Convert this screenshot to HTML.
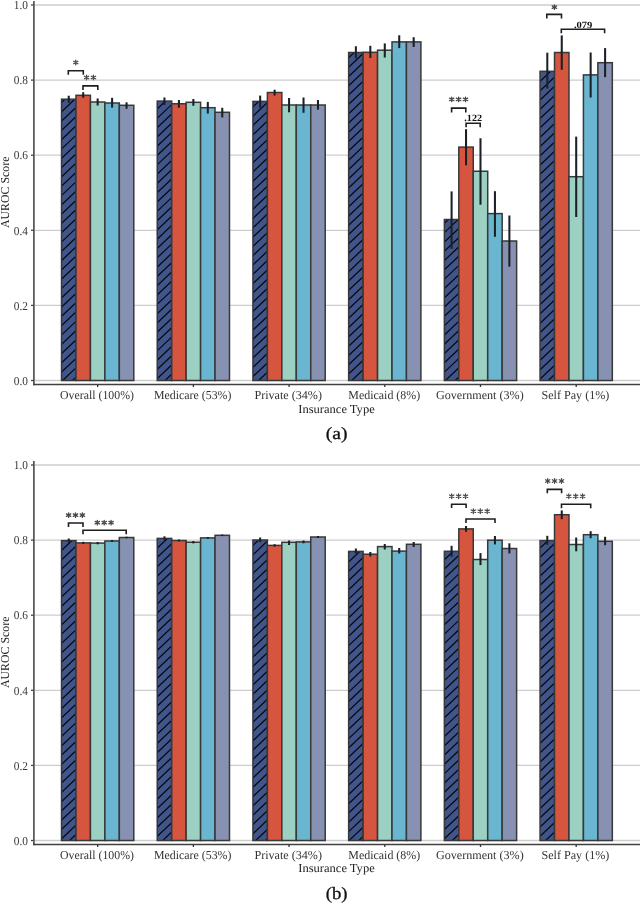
<!DOCTYPE html>
<html><head><meta charset="utf-8"><style>
html,body{margin:0;padding:0;background:#fff;}
svg{display:block;will-change:transform;}
text{font-family:"Liberation Serif",serif;text-rendering:geometricPrecision;}
.yt{font-size:12.2px;fill:#383838;}
.xt{font-size:12.2px;fill:#333;}
.ttl{font-size:12.2px;fill:#222;}
.cap{font-size:17.3px;fill:#111;stroke:#111;stroke-width:0.3px;}
.pv{font-size:9.6px;fill:#111;font-weight:bold;}
</style></head><body>
<svg width="640" height="903" viewBox="0 0 640 903">
<rect width="640" height="903" fill="#fff"/>
<line x1="34.5" y1="380.5" x2="640" y2="380.5" stroke="#cdcdcd" stroke-width="1.3"/>
<line x1="34.5" y1="305.4" x2="640" y2="305.4" stroke="#cdcdcd" stroke-width="1.3"/>
<line x1="34.5" y1="230.3" x2="640" y2="230.3" stroke="#cdcdcd" stroke-width="1.3"/>
<line x1="34.5" y1="155.2" x2="640" y2="155.2" stroke="#cdcdcd" stroke-width="1.3"/>
<line x1="34.5" y1="80.1" x2="640" y2="80.1" stroke="#cdcdcd" stroke-width="1.3"/>
<line x1="34.5" y1="5" x2="640" y2="5" stroke="#cdcdcd" stroke-width="1.3"/>
<rect x="61.53" y="99.2" width="14.45" height="281.3" fill="#40558C"/>
<clipPath id="ca0"><rect x="61.53" y="99.2" width="14.45" height="281.3"/></clipPath>
<path clip-path="url(#ca0)" d="M59.53 67.19L77.98 49.67M59.53 76.49L77.98 58.97M59.53 85.79L77.98 68.27M59.53 95.09L77.98 77.57M59.53 104.39L77.98 86.87M59.53 113.69L77.98 96.17M59.53 122.99L77.98 105.47M59.53 132.29L77.98 114.77M59.53 141.59L77.98 124.07M59.53 150.89L77.98 133.37M59.53 160.19L77.98 142.67M59.53 169.49L77.98 151.97M59.53 178.79L77.98 161.27M59.53 188.09L77.98 170.57M59.53 197.39L77.98 179.87M59.53 206.69L77.98 189.17M59.53 215.99L77.98 198.47M59.53 225.29L77.98 207.77M59.53 234.59L77.98 217.07M59.53 243.89L77.98 226.37M59.53 253.19L77.98 235.67M59.53 262.49L77.98 244.97M59.53 271.79L77.98 254.27M59.53 281.09L77.98 263.57M59.53 290.39L77.98 272.87M59.53 299.69L77.98 282.17M59.53 308.99L77.98 291.47M59.53 318.29L77.98 300.77M59.53 327.59L77.98 310.07M59.53 336.89L77.98 319.37M59.53 346.19L77.98 328.67M59.53 355.49L77.98 337.97M59.53 364.79L77.98 347.27M59.53 374.09L77.98 356.57M59.53 383.39L77.98 365.87M59.53 392.69L77.98 375.17M59.53 401.99L77.98 384.47M59.53 411.29L77.98 393.77M59.53 420.59L77.98 403.07" stroke="#080808" stroke-width="1.25" fill="none"/>
<rect x="61.53" y="99.2" width="14.45" height="281.3" fill="none" stroke="#383838" stroke-width="1.5"/>
<rect x="75.98" y="95.3" width="14.45" height="285.2" fill="#D6553F"/>
<rect x="75.98" y="95.3" width="14.45" height="285.2" fill="none" stroke="#383838" stroke-width="1.5"/>
<rect x="90.43" y="102" width="14.45" height="278.5" fill="#9CD0C3"/>
<rect x="90.43" y="102" width="14.45" height="278.5" fill="none" stroke="#383838" stroke-width="1.5"/>
<rect x="104.88" y="103" width="14.45" height="277.5" fill="#6AB6D1"/>
<rect x="104.88" y="103" width="14.45" height="277.5" fill="none" stroke="#383838" stroke-width="1.5"/>
<rect x="119.33" y="105.3" width="14.45" height="275.2" fill="#8792B3"/>
<rect x="119.33" y="105.3" width="14.45" height="275.2" fill="none" stroke="#383838" stroke-width="1.5"/>
<rect x="157.24" y="101.1" width="14.45" height="279.4" fill="#40558C"/>
<clipPath id="ca1"><rect x="157.24" y="101.1" width="14.45" height="279.4"/></clipPath>
<path clip-path="url(#ca1)" d="M155.24 73.67L173.69 56.14M155.24 82.97L173.69 65.44M155.24 92.27L173.69 74.74M155.24 101.57L173.69 84.04M155.24 110.87L173.69 93.34M155.24 120.17L173.69 102.64M155.24 129.47L173.69 111.94M155.24 138.77L173.69 121.24M155.24 148.07L173.69 130.54M155.24 157.37L173.69 139.84M155.24 166.67L173.69 149.14M155.24 175.97L173.69 158.44M155.24 185.27L173.69 167.74M155.24 194.57L173.69 177.04M155.24 203.87L173.69 186.34M155.24 213.17L173.69 195.64M155.24 222.47L173.69 204.94M155.24 231.77L173.69 214.24M155.24 241.07L173.69 223.54M155.24 250.37L173.69 232.84M155.24 259.67L173.69 242.14M155.24 268.97L173.69 251.44M155.24 278.27L173.69 260.74M155.24 287.57L173.69 270.04M155.24 296.87L173.69 279.34M155.24 306.17L173.69 288.64M155.24 315.47L173.69 297.94M155.24 324.77L173.69 307.24M155.24 334.07L173.69 316.54M155.24 343.37L173.69 325.84M155.24 352.67L173.69 335.14M155.24 361.97L173.69 344.44M155.24 371.27L173.69 353.74M155.24 380.57L173.69 363.04M155.24 389.87L173.69 372.34M155.24 399.17L173.69 381.64M155.24 408.47L173.69 390.94M155.24 417.77L173.69 400.24" stroke="#080808" stroke-width="1.25" fill="none"/>
<rect x="157.24" y="101.1" width="14.45" height="279.4" fill="none" stroke="#383838" stroke-width="1.5"/>
<rect x="171.69" y="103.75" width="14.45" height="276.75" fill="#D6553F"/>
<rect x="171.69" y="103.75" width="14.45" height="276.75" fill="none" stroke="#383838" stroke-width="1.5"/>
<rect x="186.14" y="102.3" width="14.45" height="278.2" fill="#9CD0C3"/>
<rect x="186.14" y="102.3" width="14.45" height="278.2" fill="none" stroke="#383838" stroke-width="1.5"/>
<rect x="200.59" y="107.7" width="14.45" height="272.8" fill="#6AB6D1"/>
<rect x="200.59" y="107.7" width="14.45" height="272.8" fill="none" stroke="#383838" stroke-width="1.5"/>
<rect x="215.04" y="112.3" width="14.45" height="268.2" fill="#8792B3"/>
<rect x="215.04" y="112.3" width="14.45" height="268.2" fill="none" stroke="#383838" stroke-width="1.5"/>
<rect x="252.94" y="101.4" width="14.45" height="279.1" fill="#40558C"/>
<clipPath id="ca2"><rect x="252.94" y="101.4" width="14.45" height="279.1"/></clipPath>
<path clip-path="url(#ca2)" d="M250.94 71.58L269.39 54.05M250.94 80.88L269.39 63.35M250.94 90.18L269.39 72.65M250.94 99.48L269.39 81.95M250.94 108.78L269.39 91.25M250.94 118.08L269.39 100.55M250.94 127.38L269.39 109.85M250.94 136.68L269.39 119.15M250.94 145.98L269.39 128.45M250.94 155.28L269.39 137.75M250.94 164.58L269.39 147.05M250.94 173.88L269.39 156.35M250.94 183.18L269.39 165.65M250.94 192.48L269.39 174.95M250.94 201.78L269.39 184.25M250.94 211.08L269.39 193.55M250.94 220.38L269.39 202.85M250.94 229.68L269.39 212.15M250.94 238.98L269.39 221.45M250.94 248.28L269.39 230.75M250.94 257.58L269.39 240.05M250.94 266.88L269.39 249.35M250.94 276.18L269.39 258.65M250.94 285.48L269.39 267.95M250.94 294.78L269.39 277.25M250.94 304.08L269.39 286.55M250.94 313.38L269.39 295.85M250.94 322.68L269.39 305.15M250.94 331.98L269.39 314.45M250.94 341.28L269.39 323.75M250.94 350.58L269.39 333.05M250.94 359.88L269.39 342.35M250.94 369.18L269.39 351.65M250.94 378.48L269.39 360.95M250.94 387.78L269.39 370.25M250.94 397.08L269.39 379.55M250.94 406.38L269.39 388.85M250.94 415.68L269.39 398.15" stroke="#080808" stroke-width="1.25" fill="none"/>
<rect x="252.94" y="101.4" width="14.45" height="279.1" fill="none" stroke="#383838" stroke-width="1.5"/>
<rect x="267.39" y="92.5" width="14.45" height="288" fill="#D6553F"/>
<rect x="267.39" y="92.5" width="14.45" height="288" fill="none" stroke="#383838" stroke-width="1.5"/>
<rect x="281.84" y="105" width="14.45" height="275.5" fill="#9CD0C3"/>
<rect x="281.84" y="105" width="14.45" height="275.5" fill="none" stroke="#383838" stroke-width="1.5"/>
<rect x="296.29" y="105" width="14.45" height="275.5" fill="#6AB6D1"/>
<rect x="296.29" y="105" width="14.45" height="275.5" fill="none" stroke="#383838" stroke-width="1.5"/>
<rect x="310.75" y="105" width="14.45" height="275.5" fill="#8792B3"/>
<rect x="310.75" y="105" width="14.45" height="275.5" fill="none" stroke="#383838" stroke-width="1.5"/>
<rect x="348.65" y="52.5" width="14.45" height="328" fill="#40558C"/>
<clipPath id="ca3"><rect x="348.65" y="52.5" width="14.45" height="328"/></clipPath>
<path clip-path="url(#ca3)" d="M346.65 22.56L365.1 5.03M346.65 31.86L365.1 14.33M346.65 41.16L365.1 23.63M346.65 50.46L365.1 32.93M346.65 59.76L365.1 42.23M346.65 69.06L365.1 51.53M346.65 78.36L365.1 60.83M346.65 87.66L365.1 70.13M346.65 96.96L365.1 79.43M346.65 106.26L365.1 88.73M346.65 115.56L365.1 98.03M346.65 124.86L365.1 107.33M346.65 134.16L365.1 116.63M346.65 143.46L365.1 125.93M346.65 152.76L365.1 135.23M346.65 162.06L365.1 144.53M346.65 171.36L365.1 153.83M346.65 180.66L365.1 163.13M346.65 189.96L365.1 172.43M346.65 199.26L365.1 181.73M346.65 208.56L365.1 191.03M346.65 217.86L365.1 200.33M346.65 227.16L365.1 209.63M346.65 236.46L365.1 218.93M346.65 245.76L365.1 228.23M346.65 255.06L365.1 237.53M346.65 264.36L365.1 246.83M346.65 273.66L365.1 256.13M346.65 282.96L365.1 265.43M346.65 292.26L365.1 274.73M346.65 301.56L365.1 284.03M346.65 310.86L365.1 293.33M346.65 320.16L365.1 302.63M346.65 329.46L365.1 311.93M346.65 338.76L365.1 321.23M346.65 348.06L365.1 330.53M346.65 357.36L365.1 339.83M346.65 366.66L365.1 349.13M346.65 375.96L365.1 358.43M346.65 385.26L365.1 367.73M346.65 394.56L365.1 377.03M346.65 403.86L365.1 386.33M346.65 413.16L365.1 395.63" stroke="#080808" stroke-width="1.25" fill="none"/>
<rect x="348.65" y="52.5" width="14.45" height="328" fill="none" stroke="#383838" stroke-width="1.5"/>
<rect x="363.1" y="52.3" width="14.45" height="328.2" fill="#D6553F"/>
<rect x="363.1" y="52.3" width="14.45" height="328.2" fill="none" stroke="#383838" stroke-width="1.5"/>
<rect x="377.55" y="50.2" width="14.45" height="330.3" fill="#9CD0C3"/>
<rect x="377.55" y="50.2" width="14.45" height="330.3" fill="none" stroke="#383838" stroke-width="1.5"/>
<rect x="392" y="41.9" width="14.45" height="338.6" fill="#6AB6D1"/>
<rect x="392" y="41.9" width="14.45" height="338.6" fill="none" stroke="#383838" stroke-width="1.5"/>
<rect x="406.45" y="41.9" width="14.45" height="338.6" fill="#8792B3"/>
<rect x="406.45" y="41.9" width="14.45" height="338.6" fill="none" stroke="#383838" stroke-width="1.5"/>
<rect x="444.37" y="219.5" width="14.45" height="161" fill="#40558C"/>
<clipPath id="ca4"><rect x="444.37" y="219.5" width="14.45" height="161"/></clipPath>
<path clip-path="url(#ca4)" d="M442.37 188.05L460.81 170.52M442.37 197.35L460.81 179.82M442.37 206.65L460.81 189.12M442.37 215.95L460.81 198.42M442.37 225.25L460.81 207.72M442.37 234.55L460.81 217.02M442.37 243.85L460.81 226.32M442.37 253.15L460.81 235.62M442.37 262.45L460.81 244.92M442.37 271.75L460.81 254.22M442.37 281.05L460.81 263.52M442.37 290.35L460.81 272.82M442.37 299.65L460.81 282.12M442.37 308.95L460.81 291.42M442.37 318.25L460.81 300.72M442.37 327.55L460.81 310.02M442.37 336.85L460.81 319.32M442.37 346.15L460.81 328.62M442.37 355.45L460.81 337.92M442.37 364.75L460.81 347.22M442.37 374.05L460.81 356.52M442.37 383.35L460.81 365.82M442.37 392.65L460.81 375.12M442.37 401.95L460.81 384.42M442.37 411.25L460.81 393.72M442.37 420.55L460.81 403.02" stroke="#080808" stroke-width="1.25" fill="none"/>
<rect x="444.37" y="219.5" width="14.45" height="161" fill="none" stroke="#383838" stroke-width="1.5"/>
<rect x="458.81" y="147.1" width="14.45" height="233.4" fill="#D6553F"/>
<rect x="458.81" y="147.1" width="14.45" height="233.4" fill="none" stroke="#383838" stroke-width="1.5"/>
<rect x="473.26" y="171.25" width="14.45" height="209.25" fill="#9CD0C3"/>
<rect x="473.26" y="171.25" width="14.45" height="209.25" fill="none" stroke="#383838" stroke-width="1.5"/>
<rect x="487.72" y="213.6" width="14.45" height="166.9" fill="#6AB6D1"/>
<rect x="487.72" y="213.6" width="14.45" height="166.9" fill="none" stroke="#383838" stroke-width="1.5"/>
<rect x="502.17" y="241" width="14.45" height="139.5" fill="#8792B3"/>
<rect x="502.17" y="241" width="14.45" height="139.5" fill="none" stroke="#383838" stroke-width="1.5"/>
<rect x="540.07" y="71.3" width="14.45" height="309.2" fill="#40558C"/>
<clipPath id="ca5"><rect x="540.07" y="71.3" width="14.45" height="309.2"/></clipPath>
<path clip-path="url(#ca5)" d="M538.07 36.81L556.52 19.28M538.07 46.11L556.52 28.58M538.07 55.41L556.52 37.88M538.07 64.71L556.52 47.18M538.07 74.01L556.52 56.48M538.07 83.31L556.52 65.78M538.07 92.61L556.52 75.08M538.07 101.91L556.52 84.38M538.07 111.21L556.52 93.68M538.07 120.51L556.52 102.98M538.07 129.81L556.52 112.28M538.07 139.11L556.52 121.58M538.07 148.41L556.52 130.88M538.07 157.71L556.52 140.18M538.07 167.01L556.52 149.48M538.07 176.31L556.52 158.78M538.07 185.61L556.52 168.08M538.07 194.91L556.52 177.38M538.07 204.21L556.52 186.68M538.07 213.51L556.52 195.98M538.07 222.81L556.52 205.28M538.07 232.11L556.52 214.58M538.07 241.41L556.52 223.88M538.07 250.71L556.52 233.18M538.07 260.01L556.52 242.48M538.07 269.31L556.52 251.78M538.07 278.61L556.52 261.08M538.07 287.91L556.52 270.38M538.07 297.21L556.52 279.68M538.07 306.51L556.52 288.98M538.07 315.81L556.52 298.28M538.07 325.11L556.52 307.58M538.07 334.41L556.52 316.88M538.07 343.71L556.52 326.18M538.07 353.01L556.52 335.48M538.07 362.31L556.52 344.78M538.07 371.61L556.52 354.08M538.07 380.91L556.52 363.38M538.07 390.21L556.52 372.68M538.07 399.51L556.52 381.98M538.07 408.81L556.52 391.28M538.07 418.11L556.52 400.58" stroke="#080808" stroke-width="1.25" fill="none"/>
<rect x="540.07" y="71.3" width="14.45" height="309.2" fill="none" stroke="#383838" stroke-width="1.5"/>
<rect x="554.52" y="52.5" width="14.45" height="328" fill="#D6553F"/>
<rect x="554.52" y="52.5" width="14.45" height="328" fill="none" stroke="#383838" stroke-width="1.5"/>
<rect x="568.97" y="176.7" width="14.45" height="203.8" fill="#9CD0C3"/>
<rect x="568.97" y="176.7" width="14.45" height="203.8" fill="none" stroke="#383838" stroke-width="1.5"/>
<rect x="583.42" y="74.9" width="14.45" height="305.6" fill="#6AB6D1"/>
<rect x="583.42" y="74.9" width="14.45" height="305.6" fill="none" stroke="#383838" stroke-width="1.5"/>
<rect x="597.87" y="62.7" width="14.45" height="317.8" fill="#8792B3"/>
<rect x="597.87" y="62.7" width="14.45" height="317.8" fill="none" stroke="#383838" stroke-width="1.5"/>
<line x1="68.75" y1="95.7" x2="68.75" y2="102.7" stroke="#1b1f26" stroke-width="2.05"/>
<line x1="83.2" y1="92.2" x2="83.2" y2="97.8" stroke="#1b1f26" stroke-width="2.05"/>
<line x1="97.65" y1="98.5" x2="97.65" y2="105.5" stroke="#1b1f26" stroke-width="2.05"/>
<line x1="112.1" y1="97.8" x2="112.1" y2="107.7" stroke="#1b1f26" stroke-width="2.05"/>
<line x1="126.55" y1="102.3" x2="126.55" y2="108.8" stroke="#1b1f26" stroke-width="2.05"/>
<line x1="164.46" y1="97.5" x2="164.46" y2="105" stroke="#1b1f26" stroke-width="2.05"/>
<line x1="178.91" y1="100" x2="178.91" y2="107.8" stroke="#1b1f26" stroke-width="2.05"/>
<line x1="193.36" y1="99" x2="193.36" y2="105.8" stroke="#1b1f26" stroke-width="2.05"/>
<line x1="207.81" y1="101.9" x2="207.81" y2="113.6" stroke="#1b1f26" stroke-width="2.05"/>
<line x1="222.26" y1="107.8" x2="222.26" y2="117.5" stroke="#1b1f26" stroke-width="2.05"/>
<line x1="260.17" y1="95.6" x2="260.17" y2="107.8" stroke="#1b1f26" stroke-width="2.05"/>
<line x1="274.62" y1="89.7" x2="274.62" y2="95.6" stroke="#1b1f26" stroke-width="2.05"/>
<line x1="289.07" y1="98" x2="289.07" y2="112.3" stroke="#1b1f26" stroke-width="2.05"/>
<line x1="303.52" y1="97.5" x2="303.52" y2="112.8" stroke="#1b1f26" stroke-width="2.05"/>
<line x1="317.97" y1="100" x2="317.97" y2="109.7" stroke="#1b1f26" stroke-width="2.05"/>
<line x1="355.88" y1="46.25" x2="355.88" y2="58.3" stroke="#1b1f26" stroke-width="2.05"/>
<line x1="370.33" y1="45.8" x2="370.33" y2="58" stroke="#1b1f26" stroke-width="2.05"/>
<line x1="384.78" y1="43.4" x2="384.78" y2="57.5" stroke="#1b1f26" stroke-width="2.05"/>
<line x1="399.23" y1="35.3" x2="399.23" y2="48.1" stroke="#1b1f26" stroke-width="2.05"/>
<line x1="413.68" y1="37.2" x2="413.68" y2="46.9" stroke="#1b1f26" stroke-width="2.05"/>
<line x1="451.59" y1="191.4" x2="451.59" y2="248.8" stroke="#1b1f26" stroke-width="2.05"/>
<line x1="466.04" y1="129.2" x2="466.04" y2="165.3" stroke="#1b1f26" stroke-width="2.05"/>
<line x1="480.49" y1="138.25" x2="480.49" y2="204.7" stroke="#1b1f26" stroke-width="2.05"/>
<line x1="494.94" y1="191.2" x2="494.94" y2="236.8" stroke="#1b1f26" stroke-width="2.05"/>
<line x1="509.39" y1="215.5" x2="509.39" y2="266.7" stroke="#1b1f26" stroke-width="2.05"/>
<line x1="547.3" y1="52.7" x2="547.3" y2="88.6" stroke="#1b1f26" stroke-width="2.05"/>
<line x1="561.75" y1="35.4" x2="561.75" y2="69.8" stroke="#1b1f26" stroke-width="2.05"/>
<line x1="576.2" y1="136.6" x2="576.2" y2="217" stroke="#1b1f26" stroke-width="2.05"/>
<line x1="590.65" y1="52.5" x2="590.65" y2="97.5" stroke="#1b1f26" stroke-width="2.05"/>
<line x1="605.1" y1="48.1" x2="605.1" y2="77.1" stroke="#1b1f26" stroke-width="2.05"/>
<path d="M68.3 74.8V70.8H83.3V74.8" fill="none" stroke="#1e1e1e" stroke-width="1.6"/>
<path d="M83 90V85.9H97.8V90" fill="none" stroke="#1e1e1e" stroke-width="1.6"/>
<path d="M451.6 112.5V108.1H465.8V112.5" fill="none" stroke="#1e1e1e" stroke-width="1.6"/>
<path d="M466.1 127.3V123.2H480.2V127.3" fill="none" stroke="#1e1e1e" stroke-width="1.6"/>
<path d="M546.8 18.4V14.4H561.5V18.4" fill="none" stroke="#1e1e1e" stroke-width="1.6"/>
<path d="M561.3 33.3V29.3H604.6V33.3" fill="none" stroke="#1e1e1e" stroke-width="1.6"/>
<path d="M75.75 60.2L75.75 64.8M77.9 61.26L73.6 63.74M77.9 63.74L73.6 61.26M86.55 75.2L86.55 79.8M88.7 76.26L84.4 78.74M88.7 78.74L84.4 76.26M93.45 75.2L93.45 79.8M95.6 76.26L91.3 78.74M95.6 78.74L91.3 76.26M451.7 97.1L451.7 101.7M453.85 98.16L449.55 100.64M453.85 100.64L449.55 98.16M458.6 97.1L458.6 101.7M460.75 98.16L456.45 100.64M460.75 100.64L456.45 98.16M465.5 97.1L465.5 101.7M467.65 98.16L463.35 100.64M467.65 100.64L463.35 98.16M554.4 4.8L554.4 9.4M556.55 5.86L552.25 8.34M556.55 8.34L552.25 5.86" stroke="#4a4a4a" stroke-width="1.3" fill="none" stroke-linecap="round"/>
<text x="464.3" y="120.5" textLength="17.7" lengthAdjust="spacingAndGlyphs" class="pv">.122</text>
<text x="573.9" y="28" textLength="18.5" lengthAdjust="spacingAndGlyphs" class="pv">.079</text>
<line x1="33.9" y1="1" x2="33.9" y2="385.3" stroke="#484848" stroke-width="1.6"/>
<line x1="33.1" y1="384.5" x2="640" y2="384.5" stroke="#404040" stroke-width="1.7"/>
<line x1="31" y1="380.5" x2="33.5" y2="380.5" stroke="#444" stroke-width="1.3"/>
<text x="13.8" y="384.7" textLength="14.2" lengthAdjust="spacingAndGlyphs" class="yt">0.0</text>
<line x1="31" y1="305.4" x2="33.5" y2="305.4" stroke="#444" stroke-width="1.3"/>
<text x="13.8" y="309.6" textLength="14.2" lengthAdjust="spacingAndGlyphs" class="yt">0.2</text>
<line x1="31" y1="230.3" x2="33.5" y2="230.3" stroke="#444" stroke-width="1.3"/>
<text x="13.8" y="234.5" textLength="14.2" lengthAdjust="spacingAndGlyphs" class="yt">0.4</text>
<line x1="31" y1="155.2" x2="33.5" y2="155.2" stroke="#444" stroke-width="1.3"/>
<text x="13.8" y="159.4" textLength="14.2" lengthAdjust="spacingAndGlyphs" class="yt">0.6</text>
<line x1="31" y1="80.1" x2="33.5" y2="80.1" stroke="#444" stroke-width="1.3"/>
<text x="13.8" y="84.3" textLength="14.2" lengthAdjust="spacingAndGlyphs" class="yt">0.8</text>
<line x1="31" y1="5" x2="33.5" y2="5" stroke="#444" stroke-width="1.3"/>
<text x="13.8" y="9.2" textLength="14.2" lengthAdjust="spacingAndGlyphs" class="yt">1.0</text>
<line x1="97.65" y1="384.5" x2="97.65" y2="387" stroke="#333" stroke-width="1.3"/>
<text x="60" y="398.9" textLength="74" lengthAdjust="spacingAndGlyphs" class="xt">Overall (100%)</text>
<line x1="193.36" y1="384.5" x2="193.36" y2="387" stroke="#333" stroke-width="1.3"/>
<text x="154" y="398.9" textLength="77.4" lengthAdjust="spacingAndGlyphs" class="xt">Medicare (53%)</text>
<line x1="289.07" y1="384.5" x2="289.07" y2="387" stroke="#333" stroke-width="1.3"/>
<text x="254.4" y="398.9" textLength="67.6" lengthAdjust="spacingAndGlyphs" class="xt">Private (34%)</text>
<line x1="384.78" y1="384.5" x2="384.78" y2="387" stroke="#333" stroke-width="1.3"/>
<text x="348.3" y="398.9" textLength="71.9" lengthAdjust="spacingAndGlyphs" class="xt">Medicaid (8%)</text>
<line x1="480.49" y1="384.5" x2="480.49" y2="387" stroke="#333" stroke-width="1.3"/>
<text x="435.9" y="398.9" textLength="87.85" lengthAdjust="spacingAndGlyphs" class="xt">Government (3%)</text>
<line x1="576.2" y1="384.5" x2="576.2" y2="387" stroke="#333" stroke-width="1.3"/>
<text x="541.4" y="398.9" textLength="68" lengthAdjust="spacingAndGlyphs" class="xt">Self Pay (1%)</text>
<text x="298.3" y="413.2" textLength="76.4" lengthAdjust="spacingAndGlyphs" class="ttl">Insurance Type</text>
<text transform="translate(8.9 228) rotate(-90)" x="0" y="0" textLength="71.4" lengthAdjust="spacingAndGlyphs" class="ttl">AUROC Score</text>
<text x="325.8" y="438.8" textLength="21.8" lengthAdjust="spacingAndGlyphs" class="cap">(a)</text>
<line x1="34.5" y1="840.5" x2="640" y2="840.5" stroke="#cdcdcd" stroke-width="1.3"/>
<line x1="34.5" y1="765.4" x2="640" y2="765.4" stroke="#cdcdcd" stroke-width="1.3"/>
<line x1="34.5" y1="690.3" x2="640" y2="690.3" stroke="#cdcdcd" stroke-width="1.3"/>
<line x1="34.5" y1="615.2" x2="640" y2="615.2" stroke="#cdcdcd" stroke-width="1.3"/>
<line x1="34.5" y1="540.1" x2="640" y2="540.1" stroke="#cdcdcd" stroke-width="1.3"/>
<line x1="34.5" y1="465" x2="640" y2="465" stroke="#cdcdcd" stroke-width="1.3"/>
<rect x="61.53" y="540.6" width="14.45" height="299.9" fill="#40558C"/>
<clipPath id="cb0"><rect x="61.53" y="540.6" width="14.45" height="299.9"/></clipPath>
<path clip-path="url(#cb0)" d="M59.53 505.88L77.98 488.36M59.53 515.18L77.98 497.66M59.53 524.48L77.98 506.96M59.53 533.78L77.98 516.26M59.53 543.08L77.98 525.56M59.53 552.38L77.98 534.86M59.53 561.68L77.98 544.16M59.53 570.98L77.98 553.46M59.53 580.28L77.98 562.76M59.53 589.58L77.98 572.06M59.53 598.88L77.98 581.36M59.53 608.18L77.98 590.66M59.53 617.48L77.98 599.96M59.53 626.78L77.98 609.26M59.53 636.08L77.98 618.56M59.53 645.38L77.98 627.86M59.53 654.68L77.98 637.16M59.53 663.98L77.98 646.46M59.53 673.28L77.98 655.76M59.53 682.58L77.98 665.06M59.53 691.88L77.98 674.36M59.53 701.18L77.98 683.66M59.53 710.48L77.98 692.96M59.53 719.78L77.98 702.26M59.53 729.08L77.98 711.56M59.53 738.38L77.98 720.86M59.53 747.68L77.98 730.16M59.53 756.98L77.98 739.46M59.53 766.28L77.98 748.76M59.53 775.58L77.98 758.06M59.53 784.88L77.98 767.36M59.53 794.18L77.98 776.66M59.53 803.48L77.98 785.96M59.53 812.78L77.98 795.26M59.53 822.08L77.98 804.56M59.53 831.38L77.98 813.86M59.53 840.68L77.98 823.16M59.53 849.98L77.98 832.46M59.53 859.28L77.98 841.76M59.53 868.58L77.98 851.06M59.53 877.88L77.98 860.36" stroke="#080808" stroke-width="1.25" fill="none"/>
<rect x="61.53" y="540.6" width="14.45" height="299.9" fill="none" stroke="#383838" stroke-width="1.5"/>
<rect x="75.98" y="542.9" width="14.45" height="297.6" fill="#D6553F"/>
<rect x="75.98" y="542.9" width="14.45" height="297.6" fill="none" stroke="#383838" stroke-width="1.5"/>
<rect x="90.43" y="543.1" width="14.45" height="297.4" fill="#9CD0C3"/>
<rect x="90.43" y="543.1" width="14.45" height="297.4" fill="none" stroke="#383838" stroke-width="1.5"/>
<rect x="104.88" y="541" width="14.45" height="299.5" fill="#6AB6D1"/>
<rect x="104.88" y="541" width="14.45" height="299.5" fill="none" stroke="#383838" stroke-width="1.5"/>
<rect x="119.33" y="537.5" width="14.45" height="303" fill="#8792B3"/>
<rect x="119.33" y="537.5" width="14.45" height="303" fill="none" stroke="#383838" stroke-width="1.5"/>
<rect x="157.24" y="538.4" width="14.45" height="302.1" fill="#40558C"/>
<clipPath id="cb1"><rect x="157.24" y="538.4" width="14.45" height="302.1"/></clipPath>
<path clip-path="url(#cb1)" d="M155.24 503.55L173.69 486.02M155.24 512.85L173.69 495.32M155.24 522.15L173.69 504.62M155.24 531.45L173.69 513.92M155.24 540.75L173.69 523.22M155.24 550.05L173.69 532.52M155.24 559.35L173.69 541.82M155.24 568.65L173.69 551.12M155.24 577.95L173.69 560.42M155.24 587.25L173.69 569.72M155.24 596.55L173.69 579.02M155.24 605.85L173.69 588.32M155.24 615.15L173.69 597.62M155.24 624.45L173.69 606.92M155.24 633.75L173.69 616.22M155.24 643.05L173.69 625.52M155.24 652.35L173.69 634.82M155.24 661.65L173.69 644.12M155.24 670.95L173.69 653.42M155.24 680.25L173.69 662.72M155.24 689.55L173.69 672.02M155.24 698.85L173.69 681.32M155.24 708.15L173.69 690.62M155.24 717.45L173.69 699.92M155.24 726.75L173.69 709.22M155.24 736.05L173.69 718.52M155.24 745.35L173.69 727.82M155.24 754.65L173.69 737.12M155.24 763.95L173.69 746.42M155.24 773.25L173.69 755.72M155.24 782.55L173.69 765.02M155.24 791.85L173.69 774.32M155.24 801.15L173.69 783.62M155.24 810.45L173.69 792.92M155.24 819.75L173.69 802.22M155.24 829.05L173.69 811.52M155.24 838.35L173.69 820.82M155.24 847.65L173.69 830.12M155.24 856.95L173.69 839.42M155.24 866.25L173.69 848.72M155.24 875.55L173.69 858.02" stroke="#080808" stroke-width="1.25" fill="none"/>
<rect x="157.24" y="538.4" width="14.45" height="302.1" fill="none" stroke="#383838" stroke-width="1.5"/>
<rect x="171.69" y="540.5" width="14.45" height="300" fill="#D6553F"/>
<rect x="171.69" y="540.5" width="14.45" height="300" fill="none" stroke="#383838" stroke-width="1.5"/>
<rect x="186.14" y="542.2" width="14.45" height="298.3" fill="#9CD0C3"/>
<rect x="186.14" y="542.2" width="14.45" height="298.3" fill="none" stroke="#383838" stroke-width="1.5"/>
<rect x="200.59" y="537.9" width="14.45" height="302.6" fill="#6AB6D1"/>
<rect x="200.59" y="537.9" width="14.45" height="302.6" fill="none" stroke="#383838" stroke-width="1.5"/>
<rect x="215.04" y="535.3" width="14.45" height="305.2" fill="#8792B3"/>
<rect x="215.04" y="535.3" width="14.45" height="305.2" fill="none" stroke="#383838" stroke-width="1.5"/>
<rect x="252.94" y="540" width="14.45" height="300.5" fill="#40558C"/>
<clipPath id="cb2"><rect x="252.94" y="540" width="14.45" height="300.5"/></clipPath>
<path clip-path="url(#cb2)" d="M250.94 510.18L269.39 492.65M250.94 519.48L269.39 501.95M250.94 528.78L269.39 511.25M250.94 538.08L269.39 520.55M250.94 547.38L269.39 529.85M250.94 556.68L269.39 539.15M250.94 565.98L269.39 548.45M250.94 575.28L269.39 557.75M250.94 584.58L269.39 567.05M250.94 593.88L269.39 576.35M250.94 603.18L269.39 585.65M250.94 612.48L269.39 594.95M250.94 621.78L269.39 604.25M250.94 631.08L269.39 613.55M250.94 640.38L269.39 622.85M250.94 649.68L269.39 632.15M250.94 658.98L269.39 641.45M250.94 668.28L269.39 650.75M250.94 677.58L269.39 660.05M250.94 686.88L269.39 669.35M250.94 696.18L269.39 678.65M250.94 705.48L269.39 687.95M250.94 714.78L269.39 697.25M250.94 724.08L269.39 706.55M250.94 733.38L269.39 715.85M250.94 742.68L269.39 725.15M250.94 751.98L269.39 734.45M250.94 761.28L269.39 743.75M250.94 770.58L269.39 753.05M250.94 779.88L269.39 762.35M250.94 789.18L269.39 771.65M250.94 798.48L269.39 780.95M250.94 807.78L269.39 790.25M250.94 817.08L269.39 799.55M250.94 826.38L269.39 808.85M250.94 835.68L269.39 818.15M250.94 844.98L269.39 827.45M250.94 854.28L269.39 836.75M250.94 863.58L269.39 846.05M250.94 872.88L269.39 855.35" stroke="#080808" stroke-width="1.25" fill="none"/>
<rect x="252.94" y="540" width="14.45" height="300.5" fill="none" stroke="#383838" stroke-width="1.5"/>
<rect x="267.39" y="545.4" width="14.45" height="295.1" fill="#D6553F"/>
<rect x="267.39" y="545.4" width="14.45" height="295.1" fill="none" stroke="#383838" stroke-width="1.5"/>
<rect x="281.84" y="542.3" width="14.45" height="298.2" fill="#9CD0C3"/>
<rect x="281.84" y="542.3" width="14.45" height="298.2" fill="none" stroke="#383838" stroke-width="1.5"/>
<rect x="296.29" y="541.9" width="14.45" height="298.6" fill="#6AB6D1"/>
<rect x="296.29" y="541.9" width="14.45" height="298.6" fill="none" stroke="#383838" stroke-width="1.5"/>
<rect x="310.75" y="537" width="14.45" height="303.5" fill="#8792B3"/>
<rect x="310.75" y="537" width="14.45" height="303.5" fill="none" stroke="#383838" stroke-width="1.5"/>
<rect x="348.65" y="551.4" width="14.45" height="289.1" fill="#40558C"/>
<clipPath id="cb3"><rect x="348.65" y="551.4" width="14.45" height="289.1"/></clipPath>
<path clip-path="url(#cb3)" d="M346.65 517.32L365.1 499.79M346.65 526.62L365.1 509.09M346.65 535.92L365.1 518.39M346.65 545.22L365.1 527.69M346.65 554.52L365.1 536.99M346.65 563.82L365.1 546.29M346.65 573.12L365.1 555.59M346.65 582.42L365.1 564.89M346.65 591.72L365.1 574.19M346.65 601.02L365.1 583.49M346.65 610.32L365.1 592.79M346.65 619.62L365.1 602.09M346.65 628.92L365.1 611.39M346.65 638.22L365.1 620.69M346.65 647.52L365.1 629.99M346.65 656.82L365.1 639.29M346.65 666.12L365.1 648.59M346.65 675.42L365.1 657.89M346.65 684.72L365.1 667.19M346.65 694.02L365.1 676.49M346.65 703.32L365.1 685.79M346.65 712.62L365.1 695.09M346.65 721.92L365.1 704.39M346.65 731.22L365.1 713.69M346.65 740.52L365.1 722.99M346.65 749.82L365.1 732.29M346.65 759.12L365.1 741.59M346.65 768.42L365.1 750.89M346.65 777.72L365.1 760.19M346.65 787.02L365.1 769.49M346.65 796.32L365.1 778.79M346.65 805.62L365.1 788.09M346.65 814.92L365.1 797.39M346.65 824.22L365.1 806.69M346.65 833.52L365.1 815.99M346.65 842.82L365.1 825.29M346.65 852.12L365.1 834.59M346.65 861.42L365.1 843.89M346.65 870.72L365.1 853.19M346.65 880.02L365.1 862.49" stroke="#080808" stroke-width="1.25" fill="none"/>
<rect x="348.65" y="551.4" width="14.45" height="289.1" fill="none" stroke="#383838" stroke-width="1.5"/>
<rect x="363.1" y="554.2" width="14.45" height="286.3" fill="#D6553F"/>
<rect x="363.1" y="554.2" width="14.45" height="286.3" fill="none" stroke="#383838" stroke-width="1.5"/>
<rect x="377.55" y="546.6" width="14.45" height="293.9" fill="#9CD0C3"/>
<rect x="377.55" y="546.6" width="14.45" height="293.9" fill="none" stroke="#383838" stroke-width="1.5"/>
<rect x="392" y="551.1" width="14.45" height="289.4" fill="#6AB6D1"/>
<rect x="392" y="551.1" width="14.45" height="289.4" fill="none" stroke="#383838" stroke-width="1.5"/>
<rect x="406.45" y="544.3" width="14.45" height="296.2" fill="#8792B3"/>
<rect x="406.45" y="544.3" width="14.45" height="296.2" fill="none" stroke="#383838" stroke-width="1.5"/>
<rect x="444.37" y="551.3" width="14.45" height="289.2" fill="#40558C"/>
<clipPath id="cb4"><rect x="444.37" y="551.3" width="14.45" height="289.2"/></clipPath>
<path clip-path="url(#cb4)" d="M442.37 515.15L460.81 497.62M442.37 524.45L460.81 506.92M442.37 533.75L460.81 516.22M442.37 543.05L460.81 525.52M442.37 552.35L460.81 534.82M442.37 561.65L460.81 544.12M442.37 570.95L460.81 553.42M442.37 580.25L460.81 562.72M442.37 589.55L460.81 572.02M442.37 598.85L460.81 581.32M442.37 608.15L460.81 590.62M442.37 617.45L460.81 599.92M442.37 626.75L460.81 609.22M442.37 636.05L460.81 618.52M442.37 645.35L460.81 627.82M442.37 654.65L460.81 637.12M442.37 663.95L460.81 646.42M442.37 673.25L460.81 655.72M442.37 682.55L460.81 665.02M442.37 691.85L460.81 674.32M442.37 701.15L460.81 683.62M442.37 710.45L460.81 692.92M442.37 719.75L460.81 702.22M442.37 729.05L460.81 711.52M442.37 738.35L460.81 720.82M442.37 747.65L460.81 730.12M442.37 756.95L460.81 739.42M442.37 766.25L460.81 748.72M442.37 775.55L460.81 758.02M442.37 784.85L460.81 767.32M442.37 794.15L460.81 776.62M442.37 803.45L460.81 785.92M442.37 812.75L460.81 795.22M442.37 822.05L460.81 804.52M442.37 831.35L460.81 813.82M442.37 840.65L460.81 823.12M442.37 849.95L460.81 832.42M442.37 859.25L460.81 841.72M442.37 868.55L460.81 851.02M442.37 877.85L460.81 860.32" stroke="#080808" stroke-width="1.25" fill="none"/>
<rect x="444.37" y="551.3" width="14.45" height="289.2" fill="none" stroke="#383838" stroke-width="1.5"/>
<rect x="458.81" y="528.9" width="14.45" height="311.6" fill="#D6553F"/>
<rect x="458.81" y="528.9" width="14.45" height="311.6" fill="none" stroke="#383838" stroke-width="1.5"/>
<rect x="473.26" y="559.5" width="14.45" height="281" fill="#9CD0C3"/>
<rect x="473.26" y="559.5" width="14.45" height="281" fill="none" stroke="#383838" stroke-width="1.5"/>
<rect x="487.72" y="540.2" width="14.45" height="300.3" fill="#6AB6D1"/>
<rect x="487.72" y="540.2" width="14.45" height="300.3" fill="none" stroke="#383838" stroke-width="1.5"/>
<rect x="502.17" y="548.5" width="14.45" height="292" fill="#8792B3"/>
<rect x="502.17" y="548.5" width="14.45" height="292" fill="none" stroke="#383838" stroke-width="1.5"/>
<rect x="540.07" y="540.6" width="14.45" height="299.9" fill="#40558C"/>
<clipPath id="cb5"><rect x="540.07" y="540.6" width="14.45" height="299.9"/></clipPath>
<path clip-path="url(#cb5)" d="M538.07 512.8L556.52 495.27M538.07 522.1L556.52 504.57M538.07 531.4L556.52 513.87M538.07 540.7L556.52 523.17M538.07 550L556.52 532.47M538.07 559.3L556.52 541.77M538.07 568.6L556.52 551.07M538.07 577.9L556.52 560.37M538.07 587.2L556.52 569.67M538.07 596.5L556.52 578.97M538.07 605.8L556.52 588.27M538.07 615.1L556.52 597.57M538.07 624.4L556.52 606.87M538.07 633.7L556.52 616.17M538.07 643L556.52 625.47M538.07 652.3L556.52 634.77M538.07 661.6L556.52 644.07M538.07 670.9L556.52 653.37M538.07 680.2L556.52 662.67M538.07 689.5L556.52 671.97M538.07 698.8L556.52 681.27M538.07 708.1L556.52 690.57M538.07 717.4L556.52 699.87M538.07 726.7L556.52 709.17M538.07 736L556.52 718.47M538.07 745.3L556.52 727.77M538.07 754.6L556.52 737.07M538.07 763.9L556.52 746.37M538.07 773.2L556.52 755.67M538.07 782.5L556.52 764.97M538.07 791.8L556.52 774.27M538.07 801.1L556.52 783.57M538.07 810.4L556.52 792.87M538.07 819.7L556.52 802.17M538.07 829L556.52 811.47M538.07 838.3L556.52 820.77M538.07 847.6L556.52 830.07M538.07 856.9L556.52 839.37M538.07 866.2L556.52 848.67M538.07 875.5L556.52 857.97" stroke="#080808" stroke-width="1.25" fill="none"/>
<rect x="540.07" y="540.6" width="14.45" height="299.9" fill="none" stroke="#383838" stroke-width="1.5"/>
<rect x="554.52" y="514.7" width="14.45" height="325.8" fill="#D6553F"/>
<rect x="554.52" y="514.7" width="14.45" height="325.8" fill="none" stroke="#383838" stroke-width="1.5"/>
<rect x="568.97" y="544.5" width="14.45" height="296" fill="#9CD0C3"/>
<rect x="568.97" y="544.5" width="14.45" height="296" fill="none" stroke="#383838" stroke-width="1.5"/>
<rect x="583.42" y="534.7" width="14.45" height="305.8" fill="#6AB6D1"/>
<rect x="583.42" y="534.7" width="14.45" height="305.8" fill="none" stroke="#383838" stroke-width="1.5"/>
<rect x="597.87" y="541.3" width="14.45" height="299.2" fill="#8792B3"/>
<rect x="597.87" y="541.3" width="14.45" height="299.2" fill="none" stroke="#383838" stroke-width="1.5"/>
<line x1="68.75" y1="538.5" x2="68.75" y2="542.5" stroke="#1b1f26" stroke-width="2.05"/>
<line x1="83.2" y1="541.8" x2="83.2" y2="544" stroke="#1b1f26" stroke-width="2.05"/>
<line x1="97.65" y1="542" x2="97.65" y2="544.3" stroke="#1b1f26" stroke-width="2.05"/>
<line x1="112.1" y1="540" x2="112.1" y2="542" stroke="#1b1f26" stroke-width="2.05"/>
<line x1="126.55" y1="536.7" x2="126.55" y2="538.3" stroke="#1b1f26" stroke-width="2.05"/>
<line x1="164.46" y1="536.3" x2="164.46" y2="539.8" stroke="#1b1f26" stroke-width="2.05"/>
<line x1="178.91" y1="539.5" x2="178.91" y2="541.5" stroke="#1b1f26" stroke-width="2.05"/>
<line x1="193.36" y1="541" x2="193.36" y2="543.4" stroke="#1b1f26" stroke-width="2.05"/>
<line x1="207.81" y1="537" x2="207.81" y2="538.8" stroke="#1b1f26" stroke-width="2.05"/>
<line x1="222.26" y1="534.5" x2="222.26" y2="536.1" stroke="#1b1f26" stroke-width="2.05"/>
<line x1="260.17" y1="537.5" x2="260.17" y2="542" stroke="#1b1f26" stroke-width="2.05"/>
<line x1="274.62" y1="544.2" x2="274.62" y2="546.6" stroke="#1b1f26" stroke-width="2.05"/>
<line x1="289.07" y1="540.5" x2="289.07" y2="545" stroke="#1b1f26" stroke-width="2.05"/>
<line x1="303.52" y1="540.5" x2="303.52" y2="543.3" stroke="#1b1f26" stroke-width="2.05"/>
<line x1="317.97" y1="536" x2="317.97" y2="538" stroke="#1b1f26" stroke-width="2.05"/>
<line x1="355.88" y1="548.5" x2="355.88" y2="553.5" stroke="#1b1f26" stroke-width="2.05"/>
<line x1="370.33" y1="552" x2="370.33" y2="556.5" stroke="#1b1f26" stroke-width="2.05"/>
<line x1="384.78" y1="544" x2="384.78" y2="549.5" stroke="#1b1f26" stroke-width="2.05"/>
<line x1="399.23" y1="548" x2="399.23" y2="553.5" stroke="#1b1f26" stroke-width="2.05"/>
<line x1="413.68" y1="542" x2="413.68" y2="547" stroke="#1b1f26" stroke-width="2.05"/>
<line x1="451.59" y1="545.8" x2="451.59" y2="556.7" stroke="#1b1f26" stroke-width="2.05"/>
<line x1="466.04" y1="526" x2="466.04" y2="531.8" stroke="#1b1f26" stroke-width="2.05"/>
<line x1="480.49" y1="553.1" x2="480.49" y2="565.1" stroke="#1b1f26" stroke-width="2.05"/>
<line x1="494.94" y1="536" x2="494.94" y2="544.4" stroke="#1b1f26" stroke-width="2.05"/>
<line x1="509.39" y1="543.3" x2="509.39" y2="553.4" stroke="#1b1f26" stroke-width="2.05"/>
<line x1="547.3" y1="535.8" x2="547.3" y2="544.8" stroke="#1b1f26" stroke-width="2.05"/>
<line x1="561.75" y1="510.4" x2="561.75" y2="519.2" stroke="#1b1f26" stroke-width="2.05"/>
<line x1="576.2" y1="537.5" x2="576.2" y2="551.3" stroke="#1b1f26" stroke-width="2.05"/>
<line x1="590.65" y1="531.2" x2="590.65" y2="538.2" stroke="#1b1f26" stroke-width="2.05"/>
<line x1="605.1" y1="536.8" x2="605.1" y2="545.2" stroke="#1b1f26" stroke-width="2.05"/>
<path d="M68.5 526.9V523H83V526.9" fill="none" stroke="#1e1e1e" stroke-width="1.6"/>
<path d="M83 534.3V530.3H126.2V534.3" fill="none" stroke="#1e1e1e" stroke-width="1.6"/>
<path d="M451.6 508.1V504.3H466.1V508.1" fill="none" stroke="#1e1e1e" stroke-width="1.6"/>
<path d="M466 522.9V519H495V522.9" fill="none" stroke="#1e1e1e" stroke-width="1.6"/>
<path d="M547.3 493.2V489.4H561.6V493.2" fill="none" stroke="#1e1e1e" stroke-width="1.6"/>
<path d="M561.5 508.3V504.2H590.7V508.3" fill="none" stroke="#1e1e1e" stroke-width="1.6"/>
<path d="M68.6 512.8L68.6 517.4M70.75 513.86L66.45 516.34M70.75 516.34L66.45 513.86M75.5 512.8L75.5 517.4M77.65 513.86L73.35 516.34M77.65 516.34L73.35 513.86M82.4 512.8L82.4 517.4M84.55 513.86L80.25 516.34M84.55 516.34L80.25 513.86M97.3 520.3L97.3 524.9M99.45 521.36L95.15 523.84M99.45 523.84L95.15 521.36M104.2 520.3L104.2 524.9M106.35 521.36L102.05 523.84M106.35 523.84L102.05 521.36M111.1 520.3L111.1 524.9M113.25 521.36L108.95 523.84M113.25 523.84L108.95 521.36M451.7 493.9L451.7 498.5M453.85 494.96L449.55 497.44M453.85 497.44L449.55 494.96M458.6 493.9L458.6 498.5M460.75 494.96L456.45 497.44M460.75 497.44L456.45 494.96M465.5 493.9L465.5 498.5M467.65 494.96L463.35 497.44M467.65 497.44L463.35 494.96M473.4 508.9L473.4 513.5M475.55 509.96L471.25 512.44M475.55 512.44L471.25 509.96M480.3 508.9L480.3 513.5M482.45 509.96L478.15 512.44M482.45 512.44L478.15 509.96M487.2 508.9L487.2 513.5M489.35 509.96L485.05 512.44M489.35 512.44L485.05 509.96M547.7 478.7L547.7 483.3M549.85 479.76L545.55 482.24M549.85 482.24L545.55 479.76M554.6 478.7L554.6 483.3M556.75 479.76L552.45 482.24M556.75 482.24L552.45 479.76M561.5 478.7L561.5 483.3M563.65 479.76L559.35 482.24M563.65 482.24L559.35 479.76M568.8 494L568.8 498.6M570.95 495.06L566.65 497.54M570.95 497.54L566.65 495.06M575.7 494L575.7 498.6M577.85 495.06L573.55 497.54M577.85 497.54L573.55 495.06M582.6 494L582.6 498.6M584.75 495.06L580.45 497.54M584.75 497.54L580.45 495.06" stroke="#4a4a4a" stroke-width="1.3" fill="none" stroke-linecap="round"/>
<line x1="33.9" y1="461" x2="33.9" y2="845.3" stroke="#484848" stroke-width="1.6"/>
<line x1="33.1" y1="844.5" x2="640" y2="844.5" stroke="#404040" stroke-width="1.7"/>
<line x1="31" y1="840.5" x2="33.5" y2="840.5" stroke="#444" stroke-width="1.3"/>
<text x="13.8" y="844.7" textLength="14.2" lengthAdjust="spacingAndGlyphs" class="yt">0.0</text>
<line x1="31" y1="765.4" x2="33.5" y2="765.4" stroke="#444" stroke-width="1.3"/>
<text x="13.8" y="769.6" textLength="14.2" lengthAdjust="spacingAndGlyphs" class="yt">0.2</text>
<line x1="31" y1="690.3" x2="33.5" y2="690.3" stroke="#444" stroke-width="1.3"/>
<text x="13.8" y="694.5" textLength="14.2" lengthAdjust="spacingAndGlyphs" class="yt">0.4</text>
<line x1="31" y1="615.2" x2="33.5" y2="615.2" stroke="#444" stroke-width="1.3"/>
<text x="13.8" y="619.4" textLength="14.2" lengthAdjust="spacingAndGlyphs" class="yt">0.6</text>
<line x1="31" y1="540.1" x2="33.5" y2="540.1" stroke="#444" stroke-width="1.3"/>
<text x="13.8" y="544.3" textLength="14.2" lengthAdjust="spacingAndGlyphs" class="yt">0.8</text>
<line x1="31" y1="465" x2="33.5" y2="465" stroke="#444" stroke-width="1.3"/>
<text x="13.8" y="469.2" textLength="14.2" lengthAdjust="spacingAndGlyphs" class="yt">1.0</text>
<line x1="97.65" y1="844.5" x2="97.65" y2="847" stroke="#333" stroke-width="1.3"/>
<text x="60" y="858.9" textLength="74" lengthAdjust="spacingAndGlyphs" class="xt">Overall (100%)</text>
<line x1="193.36" y1="844.5" x2="193.36" y2="847" stroke="#333" stroke-width="1.3"/>
<text x="154" y="858.9" textLength="77.4" lengthAdjust="spacingAndGlyphs" class="xt">Medicare (53%)</text>
<line x1="289.07" y1="844.5" x2="289.07" y2="847" stroke="#333" stroke-width="1.3"/>
<text x="254.4" y="858.9" textLength="67.6" lengthAdjust="spacingAndGlyphs" class="xt">Private (34%)</text>
<line x1="384.78" y1="844.5" x2="384.78" y2="847" stroke="#333" stroke-width="1.3"/>
<text x="348.3" y="858.9" textLength="71.9" lengthAdjust="spacingAndGlyphs" class="xt">Medicaid (8%)</text>
<line x1="480.49" y1="844.5" x2="480.49" y2="847" stroke="#333" stroke-width="1.3"/>
<text x="435.9" y="858.9" textLength="87.85" lengthAdjust="spacingAndGlyphs" class="xt">Government (3%)</text>
<line x1="576.2" y1="844.5" x2="576.2" y2="847" stroke="#333" stroke-width="1.3"/>
<text x="541.4" y="858.9" textLength="68" lengthAdjust="spacingAndGlyphs" class="xt">Self Pay (1%)</text>
<text x="298.3" y="872.3" textLength="76.4" lengthAdjust="spacingAndGlyphs" class="ttl">Insurance Type</text>
<text transform="translate(8.9 688) rotate(-90)" x="0" y="0" textLength="71.4" lengthAdjust="spacingAndGlyphs" class="ttl">AUROC Score</text>
<text x="325.8" y="898.8" textLength="21.8" lengthAdjust="spacingAndGlyphs" class="cap">(b)</text>
</svg>
</body></html>
